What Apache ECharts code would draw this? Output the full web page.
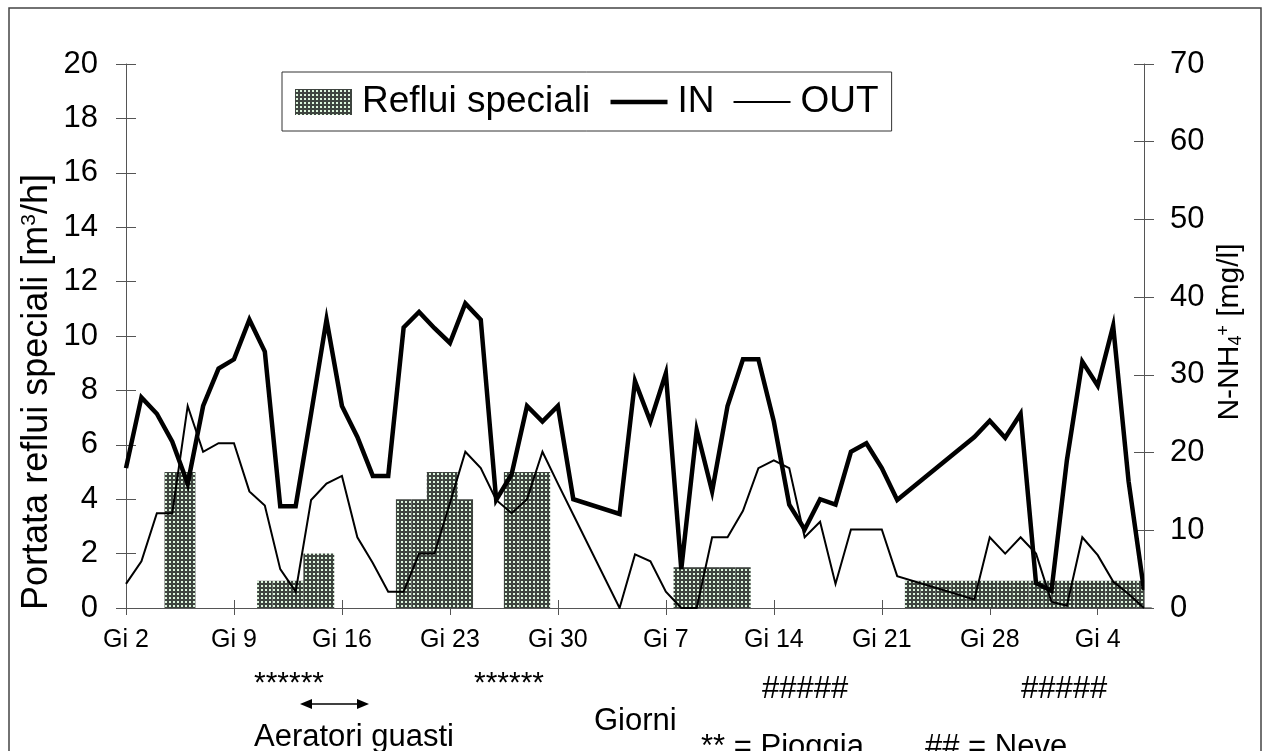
<!DOCTYPE html>
<html><head><meta charset="utf-8">
<script src="https://cdn.jsdelivr.net/npm/echarts@6/dist/echarts.min.js"></script>
<style>html,body{margin:0;padding:0;background:#fff}#c{width:1265px;height:751px}</style>
</head><body><div id="c"></div>
<script>
// ---- data ----
const categories = [
 'Gi 2','Ve 3','Sa 4','Do 5','Lu 6','Ma 7','Me 8','Gi 9','Ve 10','Sa 11','Do 12','Lu 13','Ma 14','Me 15',
 'Gi 16','Ve 17','Sa 18','Do 19','Lu 20','Ma 21','Me 22','Gi 23','Ve 24','Sa 25','Do 26','Lu 27','Ma 28','Me 29',
 'Gi 30','Ve 1','Sa 2','Do 3','Lu 4','Ma 5','Me 6','Gi 7','Ve 8','Sa 9','Do 10','Lu 11','Ma 12','Me 13',
 'Gi 14','Ve 15','Sa 16','Do 17','Lu 18','Ma 19','Me 20','Gi 21','Ve 22','Sa 23','Do 24','Lu 25','Ma 26','Me 27',
 'Gi 28','Ve 29','Sa 30','Do 31','Lu 1','Ma 2','Me 3','Gi 4','Ve 5','Sa 6','Do 7'
];
const reflui = [
 null,null,null,5,5,null,null,null,null,1,
 1,1,2,2,null,null,null,null,4,4,
 5,5,4,null,null,5,5,5,null,null,
 null,null,null,null,null,null,1.5,1.5,1.5,1.5,
 1.5,null,null,null,null,null,null,null,null,null,
 null,1,1,1,1,1,1,1,1,1,
 1,1,1,1,1,1,1
];
const nIn = [
 18,27.1,25,21.4,16,26,30.8,32,37.1,33,
 13.1,13.1,25,37.1,26,22,17,17,36.1,38.1,
 36,34.1,39.2,37.1,13.9,17.2,26,24,26,14,
 null,null,12.1,29.2,24,30.2,5,22.9,15,26,
 32,32,24,13.3,10.1,14,13.3,20.1,21.2,18,
 13.9,null,null,null,null,22,24.1,21.9,25,3.2,
 2.2,19,31.7,28.6,36.3,16.3,2.3
];
const nOut = [
 3.1,6,12.2,12.2,26,20.1,21.2,21.2,15,13.2,
 5,2.1,13.9,16,17,9.1,5.8,2.1,2.1,7,
 7,13.5,20.1,18,13.9,12.2,14,20.1,16,12,
 null,null,0,6.9,6,2.1,0,0,9.1,9.1,
 12.5,18,19,18,9.1,11.1,3.1,10.1,10.1,10.1,
 4.1,null,null,null,null,1.1,9.1,7,9.1,7,
 0.8,0.3,9.1,6.8,3.4,1.8,0
];
const seriesNames = ['Reflui speciali','IN','OUT'];
const leftTicks = {min:0, max:20, interval:2};
const rightTicks = {min:0, max:70, interval:10};

// ---- styles ----
const FF = '"Liberation Sans", Arial, Helvetica, sans-serif';
const AX = '#555';
const pc = document.createElement('canvas');
pc.width = 4; pc.height = 4;
const g = pc.getContext('2d');
g.fillStyle = '#3e443f'; g.fillRect(0,0,4,4);
g.fillStyle = '#dcf5dc'; g.fillRect(1,1,2,2);
const pattern = {image: pc, repeat: 'repeat'};

const chart = echarts.init(document.getElementById('c'), null, {renderer:'canvas'});
const baseY = (t, pos, inside) => ({
  type:'value', position:pos, min:t.min, max:t.max, interval:t.interval,
  axisLine:{show:!inside, lineStyle:{color:AX, width:1}},
  axisTick:{show:true, inside:inside, length:10, lineStyle:{color:AX, width:1}},
  axisLabel:{show:!inside, fontSize:31, fontFamily:FF, color:'#000', margin: pos==='left'?28:26},
  splitLine:{show:false}
});
const txt = (x, y, s, fs) => ({type:'text', x:x, y:y, z:50,
  style:{text:s, fontSize:fs||31, fontFamily:FF, fill:'#000', align:'left', verticalAlign:'middle'}});
const option = {
  animation:false,
  backgroundColor:'#fff',
  grid:{left:126, right:121, top:64, bottom:143, containLabel:false},
  legend:{
    left:282, top:72, orient:'horizontal',
    padding:[10,13,9,13], borderColor:'#333', borderWidth:1, backgroundColor:'#fff',
    itemWidth:57, itemHeight:26, itemGap:18,
    textStyle:{fontSize:37, fontFamily:FF, color:'#000', padding:[0,0,0,5], lineHeight:40},
    data:[
      {name:seriesNames[0], icon:'rect'},
      {name:seriesNames[1], itemStyle:{opacity:0}, lineStyle:{width:4.5, color:'#000'}},
      {name:seriesNames[2], itemStyle:{opacity:0}, lineStyle:{width:2, color:'#000'}}
    ]
  },
  xAxis:[
    {type:'category', data:categories, boundaryGap:false, position:'bottom',
     axisLine:{lineStyle:{color:AX, width:1}},
     axisTick:{interval:6, length:7, lineStyle:{color:AX}},
     axisLabel:{interval:6, fontSize:25, fontFamily:FF, color:'#000', margin:20},
     splitLine:{show:false}},
    {type:'category', data:categories, boundaryGap:false, position:'bottom',
     axisLine:{show:false},
     axisTick:{interval:6, inside:true, length:8, lineStyle:{color:AX}},
     axisLabel:{show:false}, splitLine:{show:false}}
  ],
  yAxis:[
    baseY(leftTicks,'left',false),
    baseY(rightTicks,'right',false),
    baseY(leftTicks,'left',true),
    baseY(rightTicks,'right',true)
  ],
  series:[
    {name:seriesNames[0], type:'bar', xAxisIndex:0, yAxisIndex:0, data:reflui, clip:true,
     barWidth:'100%', barCategoryGap:'0%', itemStyle:{color:pattern}, z:1},
    {name:seriesNames[1], type:'line', xAxisIndex:0, yAxisIndex:1, data:nIn,
     symbol:'none', connectNulls:true, itemStyle:{color:'#000'},
     lineStyle:{color:'#000', width:4.5, join:'miter', miterLimit:6}, z:3},
    {name:seriesNames[2], type:'line', xAxisIndex:0, yAxisIndex:1, data:nOut,
     symbol:'none', connectNulls:true, itemStyle:{color:'#000'},
     lineStyle:{color:'#000', width:2, join:'miter', miterLimit:6}, z:3}
  ],
  graphic:[
    {type:'rect', shape:{x:9, y:8, width:1252, height:800}, style:{fill:null, stroke:'#444', lineWidth:1.5}, silent:true, z:-10},
    // mask the half bar that spills past the right axis
    {type:'rect', shape:{x:1144.6, y:560, width:16, height:47.4}, style:{fill:'#fff'}, silent:true, z:100},
    {type:'text', x:37, y:392, rotation:Math.PI/2, z:50,
     style:{text:'Portata reflui speciali [m{sup|3}/h]', fontSize:36, fontFamily:FF, fill:'#000', align:'center', verticalAlign:'middle',
       rich:{sup:{fontSize:21, fontFamily:FF, fill:'#000', verticalAlign:'top', lineHeight:16}}}},
    {type:'text', x:1230, y:332, rotation:Math.PI/2, z:50,
     style:{text:'N-NH{sub|4}{sup|+} [mg/l]', fontSize:30, fontFamily:FF, fill:'#000', align:'center', verticalAlign:'middle',
       rich:{sub:{fontSize:18, fontFamily:FF, fill:'#000', verticalAlign:'bottom', lineHeight:14},
             sup:{fontSize:18, fontFamily:FF, fill:'#000', verticalAlign:'top', lineHeight:14}}}},
    txt(254, 684, '******', 30),
    txt(474, 684, '******', 30),
    txt(594, 721, 'Giorni'),
    txt(254, 737, 'Aeratori guasti'),
    txt(762, 689, '#####'),
    txt(1021, 689, '#####'),
    txt(701, 747, '** = Pioggia'),
    txt(925, 747, '## = Neve'),
    {type:'line', shape:{x1:306, y1:704, x2:363, y2:704}, style:{stroke:'#000', lineWidth:1.5}},
    {type:'polygon', shape:{points:[[300,704],[312,699],[312,709]]}, style:{fill:'#000'}},
    {type:'polygon', shape:{points:[[369,704],[357,699],[357,709]]}, style:{fill:'#000'}}
  ]
};
chart.setOption(option);
</script>
</body></html>
